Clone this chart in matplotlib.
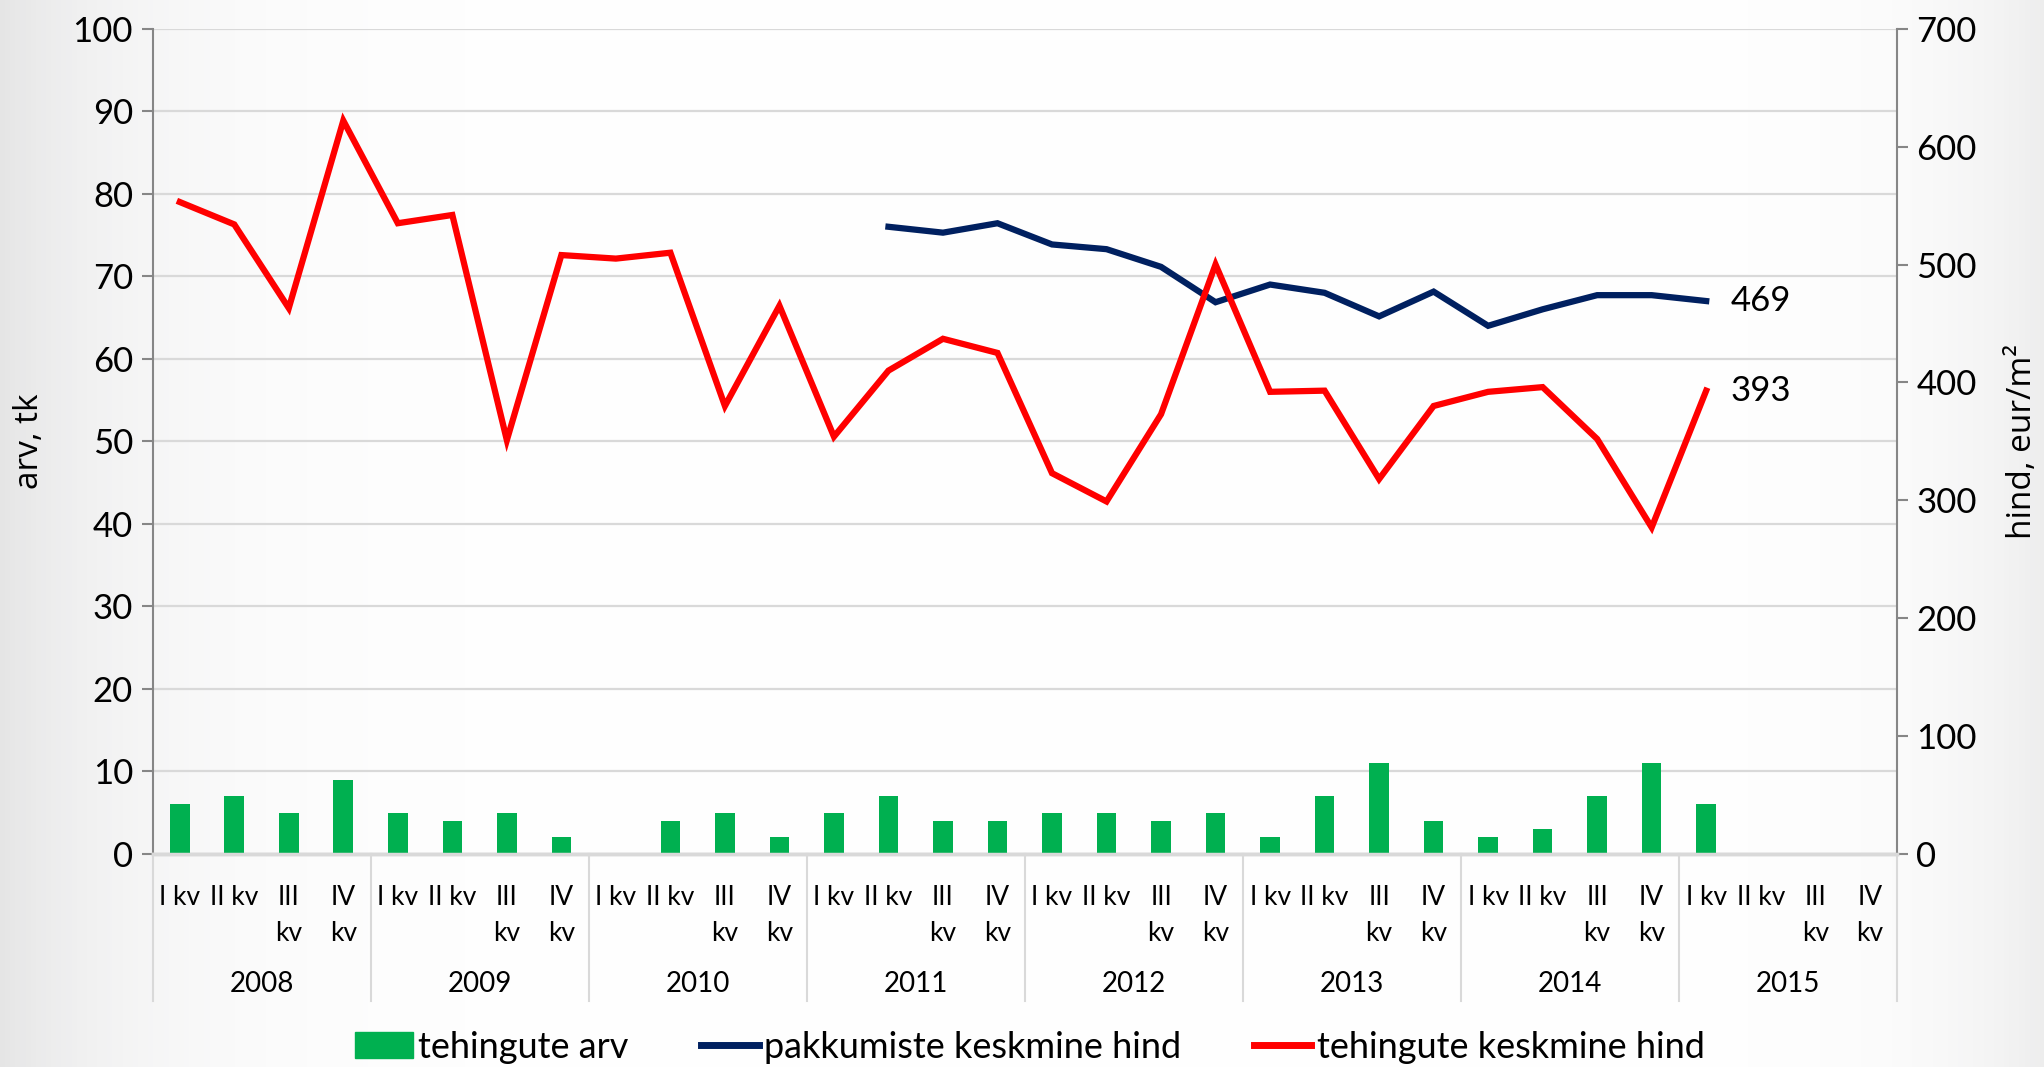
import numpy as np
import matplotlib
matplotlib.use('Agg')
import matplotlib.pyplot as plt
from matplotlib.transforms import blended_transform_factory
from matplotlib.patches import Patch
from matplotlib.lines import Line2D

nan = np.nan
years = ['2008', '2009', '2010', '2011', '2012', '2013', '2014', '2015']
quarters = ['I kv', 'II kv', 'III\nkv', 'IV\nkv']
tehingute_arv = [6, 7, 5, 9, 5, 4, 5, 2, nan, 4, 5, 2, 5, 7, 4, 4,
                 5, 5, 4, 5, 2, 7, 11, 4, 2, 3, 7, 11, 6, nan, nan, nan]
pakkumiste_hind = [nan] * 13 + [532, 527, 535, 517, 513, 498, 468,
                                 483, 476, 456, 477, 448, 462, 474, 474, 469] + [nan] * 3
tehingute_hind = [553, 534, 463, 622, 535, 542, 351, 508, 505, 510, 380, 465,
                  354, 410, 437, 425, 323, 299, 373, 500, 392, 393, 318, 380,
                  392, 396, 352, 277, 393, nan, nan, nan]
end_labels = ['469', '393']

NARROW = ['Lato', 'DejaVu Sans']
plt.rcParams['font.family'] = NARROW

W, H = 2044, 1067
fig = plt.figure(figsize=(W / 100, H / 100), dpi=100)

# background gradient
bg = fig.add_axes([0, 0, 1, 1], zorder=-10)
xx = np.linspace(0, 1, 400)
g = 1 - 0.10 * np.exp(-xx / 0.07) - 0.07 * np.exp(-(1 - xx) / 0.05)
img = np.tile(g, (50, 1))
bg.imshow(np.dstack([img, img, img * 0.985 + 0.015]), aspect='auto', extent=[0, 1, 0, 1])
bg.axis('off')

left, right = 152.5 / W, 1897 / W
bottom, top = 1 - 854 / H, 1 - 28.7 / H
ax = fig.add_axes([left, bottom, right - left, top - bottom])
ax.set_facecolor('none')
ax2 = ax.twinx()

n = len(tehingute_arv)
x = np.arange(n)
ax.bar(x, tehingute_arv, width=0.36, color='#00B050', zorder=3)
ax2.plot(x, pakkumiste_hind, color='#002060', lw=4.5, solid_joinstyle='miter', zorder=4)
ax2.plot(x, tehingute_hind, color='#FF0000', lw=4.5, solid_joinstyle='miter', zorder=4)

ax.set_xlim(-0.5, n - 0.5)
ax.set_ylim(0, 100)
ax2.set_ylim(0, 700)
ax.set_yticks(np.arange(0, 101, 10))
ax2.set_yticks(np.arange(0, 701, 100))
ax.yaxis.grid(True, color='#D9D9D9', lw=1.6, zorder=0)
ax.set_axisbelow(True)

for a in (ax, ax2):
    a.spines['top'].set_visible(False)
    a.spines['bottom'].set_color('#D9D9D9')
    a.spines['bottom'].set_linewidth(2.5)
ax.spines['right'].set_visible(False)
ax2.spines['left'].set_visible(False)
ax.spines['left'].set_color('#868686')
ax2.spines['right'].set_color('#868686')
ax.spines['left'].set_linewidth(1.5)
ax2.spines['right'].set_linewidth(1.5)

ax.tick_params(axis='y', labelsize=25, length=8, width=1.5, color='#868686', pad=6)
ax2.tick_params(axis='y', labelsize=25, length=8, width=1.5, color='#868686', pad=6)

labels = [quarters[i % 4] for i in range(n)]
ax.set_xticks(x)
ax.set_xticklabels(labels, fontsize=19, linespacing=1.55, va='top')
ax.tick_params(axis='x', length=0, pad=22)

trans = blended_transform_factory(ax.transData, ax.transAxes)
axh = (854 - 28.7)
sep_bottom = -(1001 - 854) / axh
for k in range(len(years) + 1):
    ax.plot([k * 4 - 0.5, k * 4 - 0.5], [0, sep_bottom], transform=trans,
            color='#D9D9D9', lw=1.5, clip_on=False)
for k, yr in enumerate(years):
    ax.text(k * 4 + 1.5, -(984 - 854) / axh, yr, transform=trans, ha='center',
            va='center', fontsize=20)

ax2.text(28 + 0.45, pakkumiste_hind[28], end_labels[0], fontsize=25, va='center', ha='left')
ax2.text(28 + 0.45, tehingute_hind[28], end_labels[1], fontsize=25, va='center', ha='left')

fig.text(29 / W, 1 - 0.5 * (854 + 28.7) / H, 'arv, tk', rotation=90,
         fontsize=24, family=['Open Sans', 'DejaVu Sans'], ha='center', va='center')
fig.text(2022 / W, 1 - 0.5 * (854 + 28.7) / H, 'hind, eur/m²', rotation=90,
         fontsize=24, family=['Open Sans', 'DejaVu Sans'], ha='center', va='center')

handles = [Patch(color='#00B050'),
           Line2D([0], [0], color='#002060', lw=5),
           Line2D([0], [0], color='#FF0000', lw=5)]
names = ['tehingute arv', 'pakkumiste keskmine hind', 'tehingute keskmine hind']
fig.legend(handles, names, loc='center', bbox_to_anchor=(1030 / W, 1 - 1047 / H), ncol=3,
           frameon=False, fontsize=26, handlelength=1.6, handletextpad=0.15, columnspacing=2.0)

fig.savefig('out.png', dpi=100)
